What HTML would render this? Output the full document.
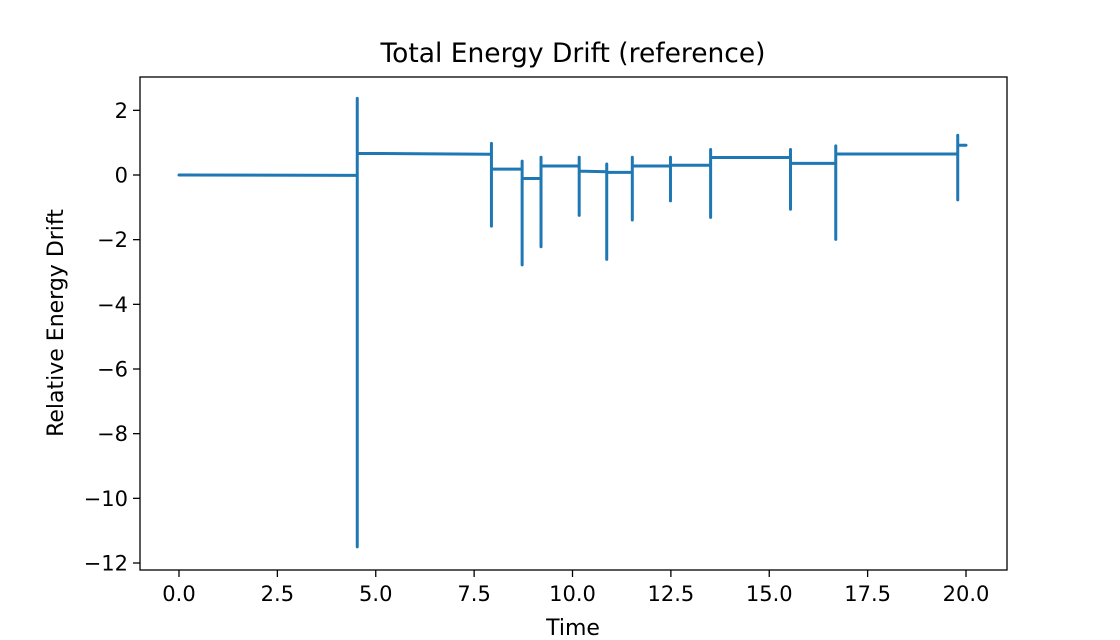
<!DOCTYPE html>
<html><head><meta charset="utf-8"><style>
html,body{margin:0;padding:0;background:#fff}
svg{display:block;font-family:"DejaVu Sans","Liberation Sans",sans-serif}
</style></head><body>
<svg id="chart" width="1120" height="640">
<rect x="0" y="0" width="1120" height="640" fill="#fff"/>
<text x="573" y="62" font-size="26.5" text-anchor="middle">Total Energy Drift (reference)</text>
<g id="xticks"></g>
<g id="yticks"></g>
<path id="line" fill="none" stroke="#1f77b4" stroke-width="3" stroke-linejoin="round" stroke-linecap="round"/>
<rect x="140" y="77" width="867" height="493" fill="none" stroke="#000" stroke-width="1.3"/>
<text x="573" y="635" font-size="22" text-anchor="middle">Time</text>
<text transform="translate(63,323) rotate(-90)" font-size="22" text-anchor="middle">Relative Energy Drift</text>
</svg>
<script>
const eventTimes = [4.53, 7.94, 8.72, 9.2, 10.17, 10.87, 11.52, 12.49, 13.51, 15.54, 16.69, 19.79];
const eventHigh  = [2.37, 0.98, 0.43, 0.55, 0.55, 0.34, 0.55, 0.55, 0.79, 0.79, 0.9, 1.23];
const eventLow   = [-11.5, -1.58, -2.78, -2.22, -1.25, -2.61, -1.39, -0.8, -1.31, -1.06, -1.99, -0.77];
const levelAfter = [0.67, 0.18, -0.11, 0.28, 0.12, 0.08, 0.28, 0.3, 0.54, 0.36, 0.65, 0.92];
const levelBefore = [-0.01, 0.64, 0.18, -0.11, 0.28, 0.1, 0.08, 0.28, 0.3, 0.54, 0.36, 0.65];
const startValue = 0;
const endTime = 20;
const xTickLabels = ["0.0","2.5","5.0","7.5","10.0","12.5","15.0","17.5","20.0"];
const xTickValues = [0,2.5,5,7.5,10,12.5,15,17.5,20];
const yTickValues = [-12,-10,-8,-6,-4,-2,0,2];

const X = t => 179 + t * (966 - 179) / 20;
const Y = v => 175 - v * (563 - 175) / 12;
const NS = "http://www.w3.org/2000/svg";

let d = `M${X(0)},${Y(startValue)}`;
for (let i = 0; i < eventTimes.length; i++) {
  const x = X(eventTimes[i]);
  d += ` L${x},${Y(levelBefore[i])} L${x},${Y(eventHigh[i])} L${x},${Y(eventLow[i])} L${x},${Y(levelAfter[i])}`;
}
d += ` L${X(endTime)},${Y(levelAfter[levelAfter.length-1])}`;
document.getElementById('line').setAttribute('d', d);

const xg = document.getElementById('xticks');
xTickValues.forEach((v, i) => {
  const x = X(v);
  const l = document.createElementNS(NS, 'line');
  l.setAttribute('x1', x); l.setAttribute('x2', x); l.setAttribute('y1', 570); l.setAttribute('y2', 577);
  l.setAttribute('stroke', '#000'); l.setAttribute('stroke-width', '1.3');
  
  
  xg.appendChild(l);
  const t = document.createElementNS(NS, 'text');
  t.setAttribute('x', x); t.setAttribute('y', 601); t.setAttribute('font-size', '21'); t.setAttribute('text-anchor', 'middle');
  t.textContent = xTickLabels[i];
  
  
  xg.appendChild(t);
});
const yg = document.getElementById('yticks');
yTickValues.forEach(v => {
  const y = Y(v);
  const l = document.createElementNS(NS, 'line');
  l.setAttribute('x1', 133); l.setAttribute('x2', 140); l.setAttribute('y1', y); l.setAttribute('y2', y);
  l.setAttribute('stroke', '#000'); l.setAttribute('stroke-width', '1.3');
  
  
  yg.appendChild(l);
  const t = document.createElementNS(NS, 'text');
  t.setAttribute('x', 128); t.setAttribute('y', y + 7.5); t.setAttribute('font-size', '21'); t.setAttribute('text-anchor', 'end');
  t.textContent = v < 0 ? '\u2212' + Math.abs(v) : String(v);
  
  
  yg.appendChild(t);
});
</script>
</body></html>
